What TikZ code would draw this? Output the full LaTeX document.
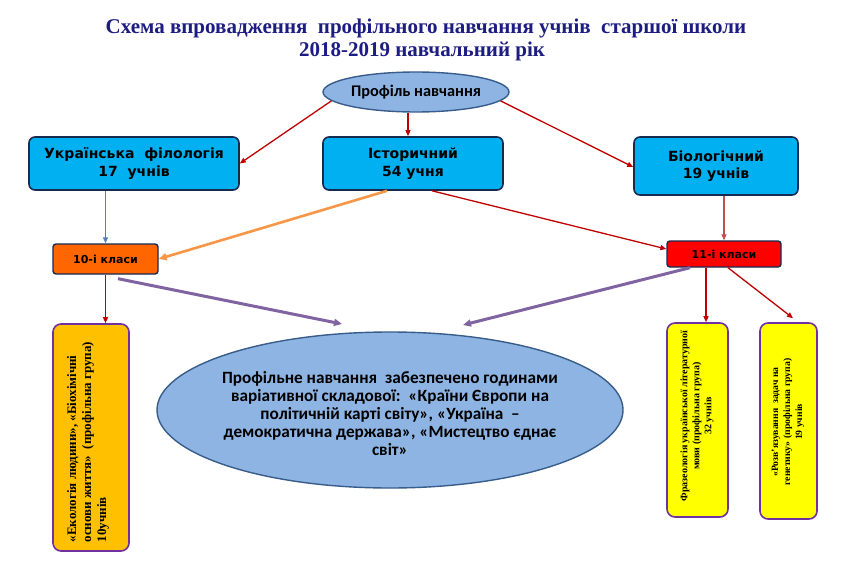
\documentclass[tikz,border=0pt]{standalone}
\usepackage{fontspec}
\setmainfont{Liberation Serif}
\newfontfamily\boxfont{DejaVu Sans}
\newfontfamily\calfont{Carlito}
\usetikzlibrary{arrows.meta,shapes.geometric,calc}
\definecolor{titleblue}{RGB}{28,28,130}
\definecolor{darkred}{RGB}{192,0,0}
\definecolor{steel}{RGB}{79,129,189}
\definecolor{orangearr}{RGB}{247,150,70}
\definecolor{purplearr}{RGB}{128,100,162}
\definecolor{indred}{RGB}{192,80,77}
\definecolor{cyanbox}{RGB}{0,176,240}
\definecolor{navyline}{RGB}{23,42,80}
\definecolor{ellfill}{RGB}{141,180,226}
\definecolor{ellline}{RGB}{56,93,138}
\definecolor{orangebox}{RGB}{255,102,0}
\definecolor{redbox}{RGB}{255,0,0}
\definecolor{goldbox}{RGB}{255,192,0}
\definecolor{yellowbox}{RGB}{255,255,0}
\definecolor{purpleline}{RGB}{112,48,160}
\begin{document}
\begin{tikzpicture}[x=1pt,y=-1pt,
  titletext/.style={anchor=base, text=titleblue, font=\bfseries\fontsize{21}{23}\selectfont},
  profbox/.style={draw=navyline, line width=1.6pt, fill=cyanbox, rounded corners=6pt, inner sep=0pt, align=center,
    font=\boxfont\bfseries\fontsize{14}{17.5}\selectfont},
  classbox/.style={draw=navyline, line width=1.4pt, rounded corners=3pt, inner sep=0pt, align=center,
    font=\boxfont\bfseries\fontsize{11}{12}\selectfont},
  vbox/.style={draw=purpleline, line width=1.6pt, rounded corners=8pt, inner sep=0pt},
  ell/.style={ellipse, draw=ellline, fill=ellfill, line width=1.4pt, inner sep=0pt, align=center},
  arr/.style={-{Triangle[length=6pt,width=5pt]}, line width=1.3pt},
  bigarr/.style={-{Triangle[length=8pt,width=7pt]}, line width=3pt}
]
\useasboundingbox (0,0) rectangle (850,572);
\fill[white] (0,0) rectangle (850,572);

% title
\node[titletext] (title1) at (426,34) {Схема впровадження\ \ профільного навчання учнів\ \ старшої школи};
\node[titletext] (title2) at (422,57) {2018-2019 навчальний рік};

% top ellipse
\node[ell, minimum width=186pt, minimum height=40pt, font=\calfont\bfseries\fontsize{16.3}{18}\selectfont] (prof) at (416,92) {Профіль навчання};

% profile boxes
\node[profbox, minimum width=210pt, minimum height=53pt] (ukr) at (134,163.5) {Українська\ \ філологія\\17\ \ учнів};
\node[profbox, minimum width=180pt, minimum height=53pt] (ist) at (413,163.5) {Історичний\\54 учня};
\node[profbox, minimum width=164pt, minimum height=58pt] (bio) at (716,166) {Біологічний\\19 учнів};

% class boxes
\node[classbox, fill=orangebox, minimum width=105pt, minimum height=30pt] (k10) at (105.5,259) {10-і класи};
\node[classbox, fill=redbox, minimum width=114pt, minimum height=26pt] (k11) at (724,254) {11-і класи};

% big ellipse
\node[ell, minimum width=466pt, minimum height=156pt] (big) at (390,410) {};
\node[align=center, font=\calfont\bfseries\fontsize{17.2}{18}\selectfont] (bigtext) at (390,414)
 {Профільне навчання\ \ забезпечено годинами\\варіативної складової:\ \ «Країни Європи\ на\\політичній карті світу», «Україна \ –\\демократична держава», «Мистецтво єднає\\світ»};

% vertical boxes
\node[vbox, fill=goldbox, minimum width=76pt, minimum height=227pt] (lbox) at (91,437.5) {};
\node[rotate=90, align=left, font=\bfseries\fontsize{13}{15}\selectfont] (ltext) at (88,442)
 {«Екологія людини», «Біохімічні\\основи життя»\ \ (профільна група)\\10учнів};
\node[vbox, fill=yellowbox, minimum width=61pt, minimum height=194pt] (rbox1) at (697.5,420) {};
\node[rotate=90, align=center, font=\bfseries\fontsize{10}{12}\selectfont] (r1text) at (697,416)
 {Фразеологія української літературної\\мови (профільна група)\\32 учнів};
\node[vbox, fill=yellowbox, minimum width=57pt, minimum height=196pt] (rbox2) at (788.5,421) {};
\node[rotate=90, align=center, font=\bfseries\fontsize{9.7}{12}\selectfont] (r2text) at (788,422)
 {«Розв'язування\ \ задач\ на\\генетику»\ (профільна група)\\19 учнів};

% connectors
\draw[arr, darkred] (prof.186) -- (ukr.east);
\draw[arr, darkred] ([xshift=-8pt]prof.south) -- ([xshift=-5pt]ist.north);
\draw[arr, darkred] (prof.354) -- ([yshift=-1pt]bio.west);
\draw[arr, steel] (k10.north |- ukr.south) -- (k10.north);
\draw[-{Triangle[length=8pt,width=7pt]}, line width=2.6pt, orangearr] ([xshift=-26pt]ist.south) -- (k10.east);
\draw[arr, darkred] ([xshift=19pt]ist.south) -- ([yshift=5pt]k11.west);
\draw[arr, indred] (k11.north |- bio.south) -- (k11.north);
\draw[arr, darkred] (k10.south) -- (k10.south |- lbox.north);
\coordinate (t1) at (342,324);
\coordinate (t2) at (463,325);
\draw[bigarr, purplearr] ([xshift=12.5pt,yshift=-4pt]k10.south) -- (t1);
\draw[bigarr, purplearr] ([xshift=-34pt]k11.south) -- (t2);
\draw[arr, darkred] ([xshift=-18pt]k11.south) -- ([xshift=-18pt]k11.south |- rbox1.north);
\draw[arr, darkred] ([xshift=4pt]k11.south) -- ([xshift=4.5pt,yshift=4pt]rbox2.north);
\end{tikzpicture}
\end{document}
